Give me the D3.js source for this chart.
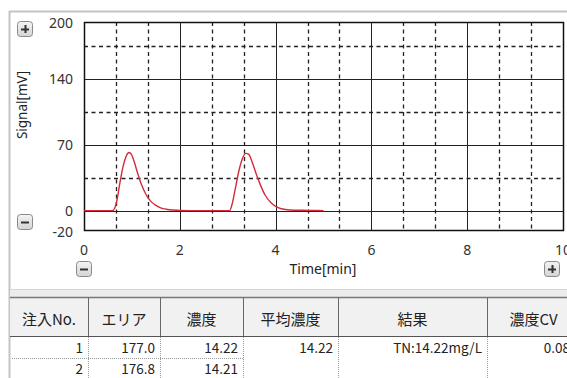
<!DOCTYPE html>
<html>
<head>
<meta charset="utf-8">
<script src="https://cdn.jsdelivr.net/npm/d3@7"></script>
<style>
  body { margin: 0; background: #fff; }
  svg { display: block; }
</style>
</head>
<body>
<svg id="chart" width="567" height="378"></svg>
<script>
// chromatogram points (time in min, signal in mV)
const timeData   = [0, 0.6, 0.64, 0.69, 0.75, 0.82, 0.88, 0.94, 0.99, 1.05, 1.12, 1.2, 1.3, 1.4, 1.5, 1.6, 1.72, 1.85, 2.2,
                    3.04, 3.09, 3.16, 3.24, 3.31, 3.38, 3.44, 3.51, 3.59, 3.68, 3.78, 3.9, 4.0, 4.12, 4.3, 4.7, 5.0];
const signalData = [0.5, 0.5, 3, 12, 30, 48, 58, 62, 60, 52, 40, 28, 17, 10, 6, 3.5, 2, 1.2, 0.5,
                    0.5, 7, 24, 44, 56, 61, 60, 52, 40, 28, 17, 9, 5, 2.5, 1.2, 0.8, 0.5];
const yTicks = [-20, 0, 70, 140, 200];
const yMajor = [0, 70, 140];
const yMinor = [35, 105, 175];
const xTicks = [0, 2, 4, 6, 8, 10];
const xMajor = [2, 4, 6, 8];
const xMinor = [0.667, 1.333, 2.667, 3.333, 4.667, 5.333, 6.667, 7.333, 8.667, 9.333];

// table
const columns = ["注入No.", "エリア", "濃度", "平均濃度", "結果", "濃度CV"];
const injNo   = ["1", "2"];
const area    = ["177.0", "176.8"];
const conc    = ["14.22", "14.21"];
const avgConc = ["14.22"];
const result  = ["TN:14.22mg/L"];
const concCV  = ["0.08"];

const svg = d3.select("#chart");
const W = 567, H = 378;
const plot = {left: 84, right: 563, top: 22, bottom: 230};

var x = d3.scaleLinear().domain([0, 10]).range([plot.left, plot.right]);
var y = d3.scaleLinear().domain([-20, 200]).range([plot.bottom, plot.top]);

// frame
svg.append("line").attr("x1", 9).attr("x2", W).attr("y1", 11.5).attr("y2", 11.5)
   .attr("stroke", "#c4c4c4").attr("stroke-width", 2);
svg.append("line").attr("x1", 9.5).attr("x2", 9.5).attr("y1", 11).attr("y2", H)
   .attr("stroke", "#c4c4c4").attr("stroke-width", 2);

var g = svg.append("g");

// minor grid
g.selectAll(".ym").data(yMinor).enter().append("line")
  .attr("x1", plot.left).attr("x2", plot.right)
  .attr("y1", d => Math.round(y(d)) + 0.5).attr("y2", d => Math.round(y(d)) + 0.5)
  .attr("stroke", "#222").attr("stroke-width", 1.3).attr("stroke-dasharray", "4,3.5");
g.selectAll(".xm").data(xMinor).enter().append("line")
  .attr("y1", plot.top).attr("y2", plot.bottom)
  .attr("x1", d => Math.round(x(d)) + 0.5).attr("x2", d => Math.round(x(d)) + 0.5)
  .attr("stroke", "#222").attr("stroke-width", 1.3).attr("stroke-dasharray", "4,3.5");

// major grid
g.selectAll(".yM").data(yMajor).enter().append("line")
  .attr("x1", plot.left).attr("x2", plot.right)
  .attr("y1", d => Math.round(y(d)) + 0.5).attr("y2", d => Math.round(y(d)) + 0.5)
  .attr("stroke", "#222");
g.selectAll(".xM").data(xMajor).enter().append("line")
  .attr("y1", plot.top).attr("y2", plot.bottom)
  .attr("x1", d => Math.round(x(d)) + 0.5).attr("x2", d => Math.round(x(d)) + 0.5)
  .attr("stroke", "#222");

g.append("rect").attr("x", plot.left + 0.5).attr("y", plot.top + 0.5)
  .attr("width", plot.right - plot.left).attr("height", plot.bottom - plot.top)
  .attr("fill", "none").attr("stroke", "#111").attr("stroke-width", 1.5);

// signal
var pts = timeData.map((t, i) => [t, signalData[i]]);
var line = d3.line().x(d => x(d[0])).y(d => y(d[1])).curve(d3.curveMonotoneX);
g.append("path").attr("d", line(pts)).attr("fill", "none")
  .attr("stroke", "#d42a3c").attr("stroke-width", 1.4);

// tick labels
const tickFont = "'Noto Sans', sans-serif";
svg.selectAll(".yl").data(yTicks).enter().append("text")
  .attr("x", 73).attr("y", d => y(d) + (d === -20 ? 1 : (d === 0 ? -1 : 0)))
  .attr("text-anchor", "end").attr("dominant-baseline", "central")
  .attr("font-family", tickFont).attr("font-size", 14).attr("fill", "#333")
  .text(d => d);
svg.selectAll(".xl").data(xTicks).enter().append("text")
  .attr("x", d => x(d)).attr("y", 249)
  .attr("text-anchor", "middle").attr("dominant-baseline", "central")
  .attr("font-family", tickFont).attr("font-size", 14).attr("fill", "#333")
  .text(d => d);

svg.append("text").attr("x", 323).attr("y", 268)
  .attr("text-anchor", "middle").attr("dominant-baseline", "central")
  .attr("font-family", tickFont).attr("font-size", 14).attr("fill", "#222")
  .text("Time[min]");
svg.append("text").attr("transform", "translate(22,105) rotate(-90)")
  .attr("text-anchor", "middle").attr("dominant-baseline", "central")
  .attr("font-family", tickFont).attr("font-size", 13.5).attr("fill", "#222")
  .text("Signal[mV]");

// zoom buttons
var defs = svg.append("defs");
var grad = defs.append("linearGradient").attr("id", "btn").attr("x1", 0).attr("y1", 0).attr("x2", 0).attr("y2", 1);
grad.append("stop").attr("offset", "0%").attr("stop-color", "#f4f4f4");
grad.append("stop").attr("offset", "100%").attr("stop-color", "#d4d4d4");

function button(cx, cy, plus) {
  var b = svg.append("g").attr("transform", `translate(${cx},${cy})`);
  b.append("rect").attr("x", -7.5).attr("y", -7.5).attr("width", 15).attr("height", 15)
    .attr("rx", 3).attr("fill", "url(#btn)").attr("stroke", "#8a8a8a");
  b.append("line").attr("x1", -4).attr("x2", 4).attr("y1", 0.5).attr("y2", 0.5)
    .attr("stroke", "#333").attr("stroke-width", 2);
  if (plus) b.append("line").attr("x1", 0.5).attr("x2", 0.5).attr("y1", -4).attr("y2", 4)
    .attr("stroke", "#333").attr("stroke-width", 2);
}
button(25, 29, true);
button(25, 222, false);
button(84, 269, false);
button(552, 269, true);

// table
const colEdges = [10, 88, 160, 243, 338, 487, 600];
const tFont = "'Noto Sans CJK JP', sans-serif";
var tg = svg.append("g");
tg.append("rect").attr("x", 10).attr("y", 289).attr("width", W - 10).attr("height", 8).attr("fill", "#ececec");
tg.append("line").attr("x1", 10).attr("x2", W).attr("y1", 289.5).attr("y2", 289.5).attr("stroke", "#d6d6d6");
tg.append("rect").attr("x", 10).attr("y", 298).attr("width", W - 10).attr("height", 38).attr("fill", "#f1f1f1");
tg.append("line").attr("x1", 10).attr("x2", W).attr("y1", 297.5).attr("y2", 297.5).attr("stroke", "#777").attr("stroke-width", 1.5);
tg.append("line").attr("x1", 10).attr("x2", W).attr("y1", 336.5).attr("y2", 336.5).attr("stroke", "#555").attr("stroke-width", 1.2);

tg.selectAll(".hsep").data(colEdges.slice(1, 6)).enter().append("line")
  .attr("x1", d => d + 0.5).attr("x2", d => d + 0.5).attr("y1", 298).attr("y2", 336)
  .attr("stroke", "#666");
tg.selectAll(".dsep").data(colEdges.slice(1, 6)).enter().append("line")
  .attr("x1", d => d + 0.5).attr("x2", d => d + 0.5).attr("y1", 337).attr("y2", H)
  .attr("stroke", "#999").attr("stroke-dasharray", "1,1");
tg.append("line").attr("x1", 12).attr("x2", 243).attr("y1", 358.5).attr("y2", 358.5)
  .attr("stroke", "#999").attr("stroke-dasharray", "1,1");

tg.selectAll(".hdr").data(columns).enter().append("text")
  .attr("x", (d, i) => (colEdges[i] + colEdges[i + 1]) / 2 - (i === 5 ? 10 : 0)).attr("y", 318)
  .attr("text-anchor", "middle").attr("dominant-baseline", "central")
  .attr("font-family", tFont).attr("font-size", 15).attr("fill", "#222")
  .text(d => d);

const cellCols = [injNo, area, conc, avgConc, result, concCV];
const rowY = [347, 368];
cellCols.forEach((col, c) => {
  tg.selectAll(".c" + c).data(col).enter().append("text")
    .attr("x", colEdges[c + 1] - (c === 5 ? 30 : 5)).attr("y", (d, r) => rowY[r])
    .attr("text-anchor", "end").attr("dominant-baseline", "central")
    .attr("font-family", tFont).attr("font-size", 13.5).attr("fill", "#222")
    .text(d => d);
});
</script>
</body>
</html>
